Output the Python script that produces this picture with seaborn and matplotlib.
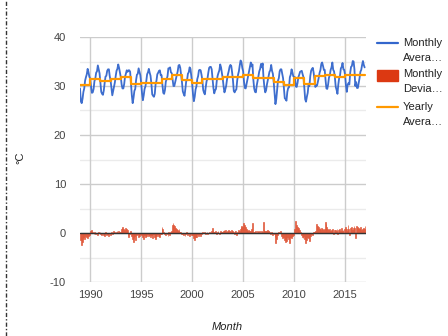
import numpy as np
import pandas as pd
import matplotlib
matplotlib.use("Agg")
import matplotlib.pyplot as plt
from matplotlib.lines import Line2D
from matplotlib.patches import Rectangle
import seaborn as sns

# ---- data ----
start_year = 1989
years = list(range(1989, 2017))

# long-term monthly normals (Jan..Dec), degC
month_normals = [31.0, 29.3, 28.3, 28.6, 29.7, 30.8, 31.7, 32.6, 33.4, 34.0, 33.5, 32.4]

# monthly deviation from normal, one row per year (Jan..Dec)
dev_1989 = [-1.5, -2.4, -1.8, -1.2, -0.9, -1.3, -0.6, -0.8, -1.0, -0.5, -0.7, -0.5]
dev_1990 = [0.5, 0.6, 0.3, 0.1, -0.3, 0.2, -0.2, 0.1, -0.4, 0.2, -0.1, 0.2]
dev_1991 = [-0.2, -0.5, 0.1, -0.4, -0.6, -0.2, 0.2, -0.5, -0.3, -0.6, -0.1, -0.4]
dev_1992 = [0.1, 0.3, -0.2, 0.4, 0.2, -0.1, 0.3, 0.5, 0.1, 0.4, 0.2, 0.3]
dev_1993 = [0.8, 1.0, 1.2, 0.9, 0.7, 1.1, 0.8, 0.6, -0.5, -0.8, -0.3, 0.5]
dev_1994 = [-0.6, -1.2, -1.8, -1.0, -0.7, -1.4, -0.5, -0.3, -0.9, -0.4, -0.6, -0.2]
dev_1995 = [-0.4, -0.8, -1.2, -0.5, -0.3, -0.9, -0.7, -0.2, -0.6, -0.5, -0.8, -0.3]
dev_1996 = [-0.5, -1.0, -0.3, -0.8, -1.3, -0.4, -0.6, -0.2, -0.7, -0.9, -0.3, -0.2]
dev_1997 = [1.2, 0.9, 0.3, -0.2, -0.5, 0.1, -0.3, -0.6, 0.2, -0.4, 0.3, 0.4]
dev_1998 = [1.6, 2.0, 1.7, 1.4, 1.1, 0.9, 0.6, 0.4, 0.8, 0.3, 0.2, -0.2]
dev_1999 = [-0.2, -0.4, 0.1, -0.6, -0.3, 0.2, -0.5, -0.1, -0.6, -0.2, 0.0, -0.4]
dev_2000 = [-0.5, -1.0, -1.4, -0.8, -0.4, -0.9, -0.3, -0.6, -0.2, -0.7, -0.3, -0.1]
dev_2001 = [0.2, -0.1, 0.3, -0.3, 0.1, 0.2, -0.2, 0.1, 0.3, -0.1, 0.4, 1.0]
dev_2002 = [0.4, 0.3, 0.2, 0.5, -0.3, 0.3, 0.4, 0.1, -0.2, 0.4, 0.3, 0.2]
dev_2003 = [0.5, 0.6, 0.4, 0.7, 0.3, 0.5, 0.6, 0.4, 0.5, 0.3, 0.6, 0.4]
dev_2004 = [0.2, -0.3, 0.4, 0.5, -0.4, 0.3, 0.6, 0.4, 0.8, 1.2, 1.4, 1.3]
dev_2005 = [2.0, 1.6, 1.3, 0.9, 0.7, 0.5, 0.6, 0.4, 0.5, 0.8, 0.5, 2.0]
dev_2006 = [0.3, 0.2, 0.5, 0.1, 0.4, 0.2, 0.3, 0.4, 0.1, 0.5, 0.3, 2.2]
dev_2007 = [0.6, 0.5, 0.4, 0.5, 0.6, 0.4, 0.5, 0.3, -0.2, 0.3, -0.4, 0.1]
dev_2008 = [-0.2, -0.8, -2.0, -1.3, -0.4, 0.3, -0.1, 0.4, 0.0, -0.6, -1.0, -0.8]
dev_2009 = [-1.4, -1.8, -1.0, -1.6, -0.9, -1.2, -2.0, -0.8, -1.1, -0.6, -0.7, -0.4]
dev_2010 = [0.8, 2.5, 1.6, 1.2, 0.9, 1.0, 0.6, 0.3, -0.4, -0.9, -1.1, -0.6]
dev_2011 = [-1.3, -2.0, -1.5, -0.8, -1.1, -0.5, -1.7, -0.6, -0.3, -0.5, 0.2, 0.3]
dev_2012 = [0.3, 0.5, 1.8, 1.5, 1.2, 0.9, 1.0, 0.7, 1.1, 0.8, 0.6, 0.9]
dev_2013 = [2.3, 1.9, 1.2, 0.8, 0.6, 0.9, 0.5, 0.7, 0.4, 0.8, -0.2, 0.6]
dev_2014 = [0.7, 0.5, 0.9, -0.2, 0.6, 0.8, 0.4, 1.0, 0.5, 0.7, -0.1, 0.9]
dev_2015 = [1.2, 0.8, 0.5, 1.6, 0.9, -0.5, 1.0, 1.3, 0.7, 1.1, 1.5, 1.0]
dev_2016 = [-1.0, 1.5, 1.3, 1.0, 0.9, 0.8, 1.2, 0.7, 0.9, 1.1, 0.8, 1.4]

deviation_rows = [dev_1989, dev_1990, dev_1991, dev_1992, dev_1993, dev_1994, dev_1995,
                  dev_1996, dev_1997, dev_1998, dev_1999, dev_2000, dev_2001, dev_2002,
                  dev_2003, dev_2004, dev_2005, dev_2006, dev_2007, dev_2008, dev_2009,
                  dev_2010, dev_2011, dev_2012, dev_2013, dev_2014, dev_2015, dev_2016]

# yearly averages (step line)
yearly_avg = [30.2, 31.4, 31.0, 31.5, 31.8, 30.5, 30.7, 30.7, 31.4, 32.2, 31.2, 30.7, 31.4, 31.5,
              31.8, 31.8, 32.2, 31.7, 31.7, 30.9, 30.2, 31.7, 30.5, 32.1, 32.2, 31.9, 32.2, 32.2]

x_ticks = [1990, 1995, 2000, 2005, 2010, 2015]
y_ticks = [-10, 0, 10, 20, 30, 40]
legend_labels = ["Monthly\nAvera…", "Monthly\nDevia…", "Yearly\nAvera…"]

# ---- tables ----
rows = []
for yi, yr in enumerate(years):
    for m in range(12):
        d = deviation_rows[yi][m]
        rows.append({"t": yr + m / 12.0, "dev": d, "avg": month_normals[m] + d})
monthly = pd.DataFrame(rows)
yearly = pd.DataFrame({"t": years + [years[-1] + 1], "avg": yearly_avg + [yearly_avg[-1]]})

# ---- figure ----
sns.set_style("white")
plt.rcParams["font.family"] = ["Liberation Sans", "DejaVu Sans"]
W, H = 448, 336
fig = plt.figure(figsize=(W / 100, H / 100), dpi=100)
ax = fig.add_axes([80 / W, 1 - 282 / H, (366 - 80) / W, (282 - 37) / H])

ax.set_xlim(1989, 2017.05)
ax.set_ylim(-10, 40)

# grid
for v in [-5, 5, 15, 25, 35]:
    ax.axhline(v, color="#ebebeb", lw=1, zorder=0)
for v in y_ticks:
    ax.axhline(v, color="#cccccc", lw=1, zorder=0)
for v in x_ticks:
    ax.axvline(v, color="#cccccc", lw=1, zorder=0)

ax.bar(monthly["t"], monthly["dev"], width=1 / 12.0, align="edge",
       color="#e0583a", edgecolor="#e0583a", alpha=0.85, linewidth=0.6, zorder=2)
ax.axhline(0, color="#333333", lw=1, zorder=3)

sns.lineplot(data=monthly, x="t", y="avg", ax=ax, color="#3366cc", lw=1.3, alpha=0.95, zorder=4)
sns.lineplot(data=yearly, x="t", y="avg", ax=ax, color="#ff9900", lw=1.6,
             drawstyle="steps-post", zorder=5)

for s in ax.spines.values():
    s.set_visible(False)

ax.set_xticks(x_ticks)
ax.set_xticklabels([str(v) for v in x_ticks])
ax.set_xticks(years + [2017], minor=True)
ax.set_yticks(y_ticks)
ax.set_yticklabels([str(v) for v in y_ticks])
ax.tick_params(axis="both", which="major", labelsize=8, labelcolor="#444444", length=0)
ax.tick_params(axis="y", pad=10)
ax.tick_params(axis="x", pad=6)
ax.tick_params(axis="x", which="minor", direction="in", length=4, color="#cccccc", width=1)
ax.set_xlabel("")
ax.set_ylabel("")

fig.text(20 / W, 1 - 158 / H, "°C", rotation=90, ha="center", va="center",
         fontsize=8, color="#222222")
fig.text(227 / W, 1 - 327 / H, "Month", ha="center", va="center",
         fontsize=8, color="#222222", style="italic")

# legend (drawn manually to mimic first-line alignment)
lx0, lx1, tx = 377 / W, 398 / W, 403 / W
fig.add_artist(Line2D([lx0, lx1], [1 - 43 / H] * 2, color="#3366cc", lw=1.6, transform=fig.transFigure))
fig.add_artist(Rectangle((lx0, 1 - 81 / H), lx1 - lx0, 11 / H, color="#dc3912", transform=fig.transFigure))
fig.add_artist(Line2D([lx0, lx1], [1 - 107 / H] * 2, color="#ff9900", lw=1.6, transform=fig.transFigure))
for lab, ytop in zip(legend_labels, [43, 74, 107]):
    l1, l2 = lab.split("\n")
    fig.text(tx, 1 - ytop / H, l1, ha="left", va="center", fontsize=8, color="#222222")
    fig.text(tx, 1 - (ytop + 15) / H, l2, ha="left", va="center", fontsize=8, color="#222222")

# dash-dot page border on the left
fig.add_artist(Line2D([6 / W, 6 / W], [0, 1], color="#333333", lw=1,
                      linestyle=(0, (3, 1.5, 1, 1.5)), transform=fig.transFigure))

fig.savefig("out.png", dpi=100)
